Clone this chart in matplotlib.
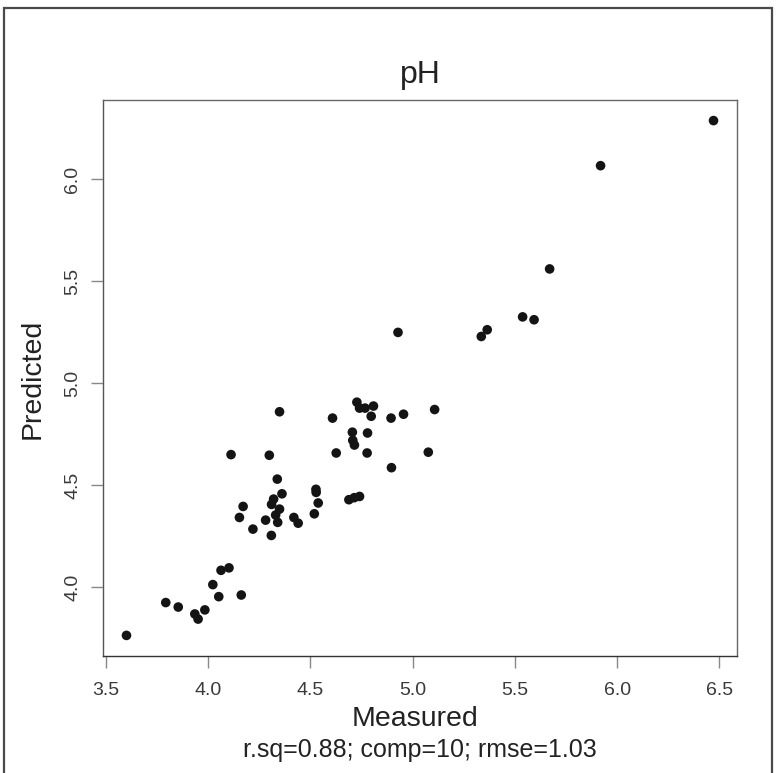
import matplotlib
matplotlib.use("Agg")
import matplotlib.pyplot as plt
from matplotlib.patches import Rectangle

plt.rcParams['font.family'] = ['Liberation Sans', 'DejaVu Sans']

measured = [3.602, 3.794, 3.855, 3.936, 3.952, 3.985, 4.024, 4.053, 4.064, 4.103, 4.163,
            4.350, 4.609, 4.728, 4.741, 4.768, 4.809, 4.798, 4.895, 4.706, 4.780,
            4.708, 4.716, 4.627, 4.778, 4.897, 4.113, 4.300, 4.339, 4.528, 4.529,
            4.539, 4.520, 4.689, 4.715, 4.741, 4.362, 4.321, 4.311, 4.350, 4.331,
            4.341, 4.282, 4.172, 4.154, 4.220, 4.310, 4.420, 4.441, 4.956, 5.108,
            5.077, 4.929, 5.365, 5.336, 5.538, 5.594, 5.670, 5.919, 6.471]
predicted = [3.764, 3.925, 3.903, 3.869, 3.844, 3.889, 4.013, 3.954, 4.083, 4.095, 3.962,
             4.860, 4.829, 4.907, 4.878, 4.878, 4.888, 4.838, 4.829, 4.760, 4.756,
             4.720, 4.697, 4.658, 4.658, 4.586, 4.650, 4.647, 4.530, 4.480, 4.465,
             4.413, 4.360, 4.429, 4.439, 4.445, 4.458, 4.432, 4.406, 4.383, 4.354,
             4.318, 4.329, 4.396, 4.342, 4.285, 4.254, 4.342, 4.314, 4.848, 4.871,
             4.662, 5.249, 5.262, 5.229, 5.325, 5.311, 5.560, 6.066, 6.287]

xticks = [3.5, 4.0, 4.5, 5.0, 5.5, 6.0, 6.5]
yticks = [4.0, 4.5, 5.0, 5.5, 6.0]
title = "pH"
xlabel = "Measured"
ylabel = "Predicted"
subtitle = "r.sq=0.88; comp=10; rmse=1.03"

W, H = 777, 773
fig = plt.figure(figsize=(W / 100, H / 100), dpi=100)
fig.patch.set_facecolor('white')

# outer frame
fig.patches.append(Rectangle((4 / W, 1 - 776 / H), (772 - 4) / W, (776 - 8) / H,
                             transform=fig.transFigure, fill=False,
                             edgecolor='#4a4a4a', linewidth=1.6))

ax = fig.add_axes([103 / W, 1 - 656 / H, (737 - 103) / W, (656 - 100) / H])
ax.scatter(measured, predicted, s=48, color='#141414', edgecolors='none', zorder=3)

# R-style 4% extension
xr = max(measured) - min(measured)
yr = max(predicted) - min(predicted)
ax.set_xlim(min(measured) - 0.04 * xr, max(measured) + 0.04 * xr)
ax.set_ylim(min(predicted) - 0.04 * yr, max(predicted) + 0.04 * yr)

ax.set_xticks(xticks)
ax.set_xticklabels([f"{v:.1f}" for v in xticks])
ax.set_yticks(yticks)
ax.set_yticklabels([f"{v:.1f}" for v in yticks], rotation=90, va='center')

for sp in ax.spines.values():
    sp.set_color('#666666')
    sp.set_linewidth(1.0)
ax.spines['left'].set_color('#555555')
ax.spines['bottom'].set_color('#333333')

ax.tick_params(axis='x', length=8.5, width=1, color='#888888', pad=10,
               labelsize=14, labelcolor='#3a3a3a')
ax.tick_params(axis='y', length=8.5, width=1, color='#888888', pad=7,
               labelsize=14, labelcolor='#3a3a3a')

fig.text(420 / W, 1 - 75 / H, title, ha='center', va='center', fontsize=23, color='#222222')
fig.text(415 / W, 1 - 719 / H, xlabel, ha='center', va='center', fontsize=20.5, color='#222222')
fig.text(420 / W, 1 - 750 / H, subtitle, ha='center', va='center', fontsize=18, color='#222222')
fig.text(33 / W, 1 - 379 / H, ylabel, ha='center', va='center', rotation=90,
         fontsize=20.5, color='#222222')

fig.savefig('out.png', dpi=100)
